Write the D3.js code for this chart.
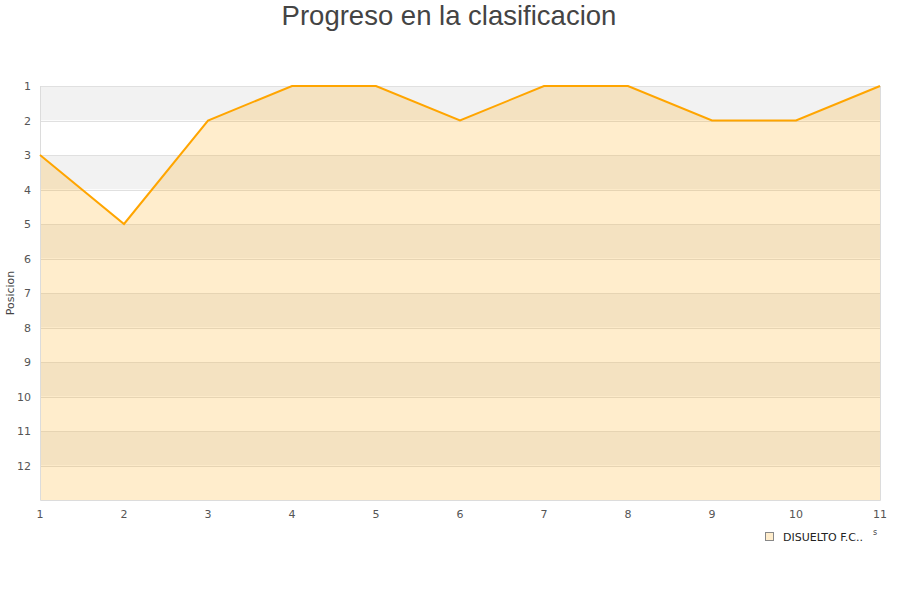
<!DOCTYPE html>
<html><head><meta charset="utf-8">
<script src="https://cdn.jsdelivr.net/npm/d3@7"></script>
<style>body{margin:0;background:#fff}svg{display:block}</style>
</head><body>
<svg id="c" width="900" height="600"></svg>
<script>
const jornadas = [1,2,3,4,5,6,7,8,9,10,11];
const posiciones = [3,5,2,1,1,2,1,1,2,2,1];
const yTicks = [1,2,3,4,5,6,7,8,9,10,11,12];
const teamName = "DISUELTO F.C..";
const title = "Progreso en la clasificacion";
const yLabel = "Posicion";

const svg = d3.select("#c");
const m = {l:40, r:880, t:86, b:500};
const x = d3.scaleLinear().domain([1,11]).range([m.l, m.r]);
const y = d3.scaleLinear().domain([1,13]).range([m.t, m.b]);

// bands
const bandStarts = d3.range(1,13);
svg.append("g").selectAll("rect").data(bandStarts).join("rect")
  .attr("x", m.l).attr("width", m.r - m.l)
  .attr("y", d => y(d)).attr("height", d => y(d+1) - y(d))
  .attr("fill", d => d % 2 === 1 ? "#f2f2f2" : "#ffffff");

// gridlines
svg.append("g").selectAll("line").data(yTicks).join("line")
  .attr("x1", m.l).attr("x2", m.r)
  .attr("y1", d => Math.round(y(d)) + 0.5).attr("y2", d => Math.round(y(d)) + 0.5)
  .attr("stroke", "#e0e0e0").attr("stroke-width", 1);

// area
const pts = jornadas.map((j,i) => [j, posiciones[i]]);
svg.append("path").datum(pts)
  .attr("d", d3.area().x(d => x(d[0])).y0(y(13)).y1(d => y(d[1])))
  .attr("fill", "#ffa500").attr("fill-opacity", 0.2);

// border
svg.append("path")
  .attr("d", `M${m.l+0.5},${m.t}V${m.b+0.5}H${m.r+0.5}V${m.t}`)
  .attr("fill", "none").attr("stroke", "#dcdcdc");

// line
svg.append("path").datum(pts)
  .attr("d", d3.line().x(d => x(d[0])).y(d => y(d[1])))
  .attr("fill", "none").attr("stroke", "#ffa500").attr("stroke-width", 2);

// y axis labels
svg.append("g").selectAll("text").data(yTicks).join("text")
  .attr("x", 31).attr("y", d => y(d) + 4)
  .attr("text-anchor", "end")
  .attr("font-family", "DejaVu Sans").attr("font-size", 11).attr("fill", "#555")
  .text(d => d);

// x axis labels
svg.append("g").selectAll("text").data(jornadas).join("text")
  .attr("x", d => x(d)).attr("y", 518)
  .attr("text-anchor", "middle")
  .attr("font-family", "DejaVu Sans").attr("font-size", 11).attr("fill", "#555")
  .text(d => d);

// y label
svg.append("text")
  .attr("transform", `translate(14,${y(7)}) rotate(-90)`)
  .attr("text-anchor", "middle")
  .attr("font-family", "DejaVu Sans").attr("font-size", 11).attr("fill", "#444")
  .text(yLabel);

// title
svg.append("text").attr("x", 449).attr("y", 25)
  .attr("text-anchor", "middle")
  .attr("font-family", "Liberation Sans, Arial, sans-serif").attr("font-size", 27.5).attr("fill", "#444")
  .text(title);

// legend
const lg = svg.append("g");
lg.append("rect").attr("x", 765.5).attr("y", 532.5).attr("width", 8).attr("height", 8)
  .attr("fill", "#ffedcc").attr("stroke", "#888");
lg.append("text").attr("x", 783).attr("y", 541)
  .attr("font-family", "DejaVu Sans").attr("font-size", 11).attr("fill", "#222")
  .text(teamName);
lg.append("text").attr("x", 873).attr("y", 535)
  .attr("font-family", "DejaVu Sans").attr("font-size", 8).attr("fill", "#444")
  .text("s");
</script>
</body></html>
